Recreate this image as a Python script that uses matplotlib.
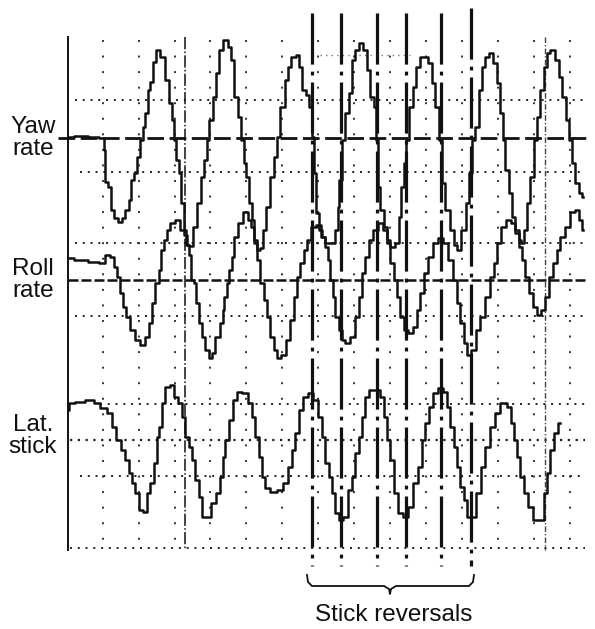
import matplotlib
matplotlib.use("Agg")
import matplotlib.pyplot as plt

# time base and traces (values are deflections from each trace's zero line)
yaw_t = [68, 80, 95, 102, 105, 105, 110, 112, 115, 120, 123, 127, 130, 132, 135, 138, 142, 143, 147, 148,
         152, 153, 158, 162, 167, 170, 173, 175, 177, 180, 182, 185, 187, 190, 195, 198, 203, 205, 208, 210,
         215, 217, 220, 225, 230, 232, 235, 240, 242, 245, 247, 250, 253, 255, 258, 262, 263, 268, 272, 275,
         278, 282, 287, 288, 293, 298, 300, 303, 308, 310, 313, 315, 317, 320, 323, 327, 332, 337, 338, 340,
         343, 347, 350, 353, 357, 360, 365, 368, 372, 375, 377, 378, 382, 385, 388, 392, 397, 400, 402, 405,
         407, 410, 415, 417, 422, 425, 430, 433, 437, 440, 443, 447, 452, 455, 458, 463, 468, 470, 473, 477,
         480, 483, 487, 490, 495, 498, 502, 503, 507, 510, 513, 517, 520, 522, 525, 528, 532, 535, 538, 542,
         545, 548, 552, 557, 560, 563, 568, 570, 573, 577, 580, 583]
yaw_v = [1, 2, 1, 0, -12, -44, -49, -72, -80, -84, -80, -72, -62, -42, -35, -19, -2, 11, 25, 48,
         56, 76, 88, 81, 58, 35, 18, -2, -22, -35, -65, -92, -107, -108, -89, -65, -39, -22, -2, 18,
         41, 65, 88, 98, 91, 78, 41, 21, -2, -25, -39, -65, -82, -102, -112, -110, -92, -69, -39, -19,
         1, 31, 58, 71, 81, 83, 71, 48, 43, 31, 1, -35, -75, -92, -99, -105, -105, -92, -69, -42,
         -2, 25, 45, 78, 88, 95, 88, 68, 41, 31, -2, -49, -72, -89, -105, -109, -105, -79, -49, -25,
         -2, 31, 51, 71, 81, 81, 75, 55, 31, -2, -45, -72, -92, -107, -112, -92, -65, -35, -2, 11,
         48, 71, 81, 85, 75, 55, 25, -2, -32, -55, -79, -92, -102, -105, -92, -65, -39, -2, 21, 48,
         71, 85, 88, 78, 61, 41, 18, -2, -25, -45, -55, -59]

roll_t = [68, 80, 95, 103, 107, 112, 115, 118, 122, 123, 128, 132, 137, 142, 147, 150, 153, 157, 160, 162,
          165, 168, 172, 177, 182, 185, 188, 190, 192, 195, 197, 200, 203, 207, 210, 213, 217, 222, 223, 225,
          228, 230, 233, 235, 240, 245, 250, 252, 255, 258, 262, 265, 268, 272, 275, 278, 283, 288, 292, 295,
          298, 302, 305, 308, 313, 318, 323, 327, 328, 332, 333, 337, 340, 343, 347, 352, 357, 360, 363, 367,
          370, 375, 380, 385, 388, 392, 395, 398, 402, 405, 410, 415, 418, 422, 425, 430, 435, 440, 445, 450,
          455, 458, 462, 465, 468, 473, 478, 482, 487, 492, 495, 498, 503, 508, 513, 517, 520, 523, 527, 530,
          535, 538, 543, 547, 550, 555, 558, 562, 567, 572, 577, 580, 583]
roll_v = [22, 20, 18, 17, 25, 23, 13, 3, -13, -27, -37, -50, -60, -65, -57, -43, -23, -3, 10, 30,
          40, 50, 57, 60, 50, 45, 35, 25, 0, -3, -23, -43, -57, -70, -78, -73, -57, -43, -30, -17,
          -3, 10, 23, 43, 57, 68, 60, 53, 37, 20, -3, -20, -37, -57, -70, -78, -75, -60, -40, -17,
          3, 17, 30, 40, 53, 55, 43, 33, 20, 0, -17, -37, -50, -60, -63, -57, -37, -17, 7, 23,
          40, 50, 57, 50, 40, 17, 0, -17, -37, -50, -53, -47, -30, -13, 7, 23, 37, 42, 37, 20,
          0, -23, -43, -63, -75, -70, -50, -37, -17, 3, 17, 37, 53, 60, 57, 47, 33, 20, 3, -13,
          -27, -35, -30, -17, 3, 17, 30, 43, 53, 68, 70, 60, 50]

stick_t = [68, 70, 80, 90, 97, 103, 110, 113, 118, 123, 127, 130, 133, 137, 140, 145, 148, 152, 155, 158,
           160, 163, 167, 172, 175, 180, 183, 187, 190, 193, 197, 200, 203, 208, 213, 218, 222, 223, 227, 230,
           235, 238, 245, 250, 253, 257, 260, 263, 267, 273, 280, 285, 290, 293, 297, 300, 305, 310, 315, 320,
           323, 327, 330, 333, 337, 340, 345, 350, 353, 357, 360, 363, 367, 370, 377, 382, 385, 388, 392, 395,
           400, 405, 410, 415, 420, 423, 427, 430, 435, 440, 445, 448, 452, 455, 458, 462, 465, 468, 473, 478,
           483, 487, 492, 497, 503, 510, 512, 515, 518, 522, 525, 530, 535, 542, 545, 548, 552, 555, 560]
stick_v = [30, 37, 38, 40, 37, 32, 27, 13, 0, -10, -20, -33, -43, -53, -70, -72, -53, -43, -23, 3,
           13, 37, 53, 55, 43, 37, 23, 3, -7, -20, -40, -57, -77, -77, -63, -53, -37, -17, 0, 20,
           40, 48, 47, 37, 23, 3, -17, -37, -48, -52, -50, -43, -27, -10, 7, 30, 43, 47, 40, 23,
           3, -23, -37, -53, -73, -80, -77, -50, -37, -13, 3, 23, 43, 50, 50, 43, 23, 0, -20, -53,
           -73, -77, -67, -43, -27, 0, 17, 33, 47, 52, 48, 33, 13, -7, -27, -47, -60, -77, -77, -53,
           -27, -7, 13, 27, 37, 33, 17, 0, -17, -37, -53, -67, -80, -80, -53, -33, -10, 7, 17]

reversal_t = [312, 341, 377, 406, 441, 471]
labels = ["Yaw\nrate", "Roll\nrate", "Lat.\nstick"]

# layout (figure pixels)
zero_y = {"yaw": 138, "roll": 280, "stick": 440}
grid_cols = [103, 139, 175, 210, 246, 282, 318, 354, 390, 426, 462, 498, 534, 570]
dotted_rows = [(100, 75), (172, 80), (243, 75), (316, 75), (404, 100), (476, 80), (548, 70)]
ink = "#111111"

plt.rcParams['font.family'] = ['Liberation Sans', 'DejaVu Sans']
fig = plt.figure(figsize=(5.95, 6.29), dpi=100)
ax = fig.add_axes([0, 0, 1, 1])
ax.set_xlim(0, 595)
ax.set_ylim(629, 0)
ax.axis('off')

# dotted grid
for gx in grid_cols:
    ax.plot([gx, gx], [40, 550], color="#333333", lw=1.4, ls=(0, (1, 7)))
for gy, x0 in dotted_rows:
    ax.plot([x0, 585], [gy, gy], color="#222222", lw=1.4, ls=(0, (1, 3)))
ax.plot([320, 410], [55, 55], color="#777777", lw=1.0, ls=(0, (1, 3)))
ax.plot([70, 585], [440, 440], color="#222222", lw=1.6, ls=(0, (1, 2.5)))

# zero lines
ax.plot([58, 590], [zero_y["yaw"]] * 2, color=ink, lw=2.0, ls=(0, (6, 2)))
ax.plot([68, 585], [zero_y["roll"]] * 2, color=ink, lw=1.8, ls=(0, (4, 1.2)))

# vertical markers
ax.plot([68, 68], [37, 550], color=ink, lw=1.4)
ax.plot([185, 185], [37, 550], color=ink, lw=1.1, ls=(0, (8, 1.5, 1, 1.5)))
ax.plot([545, 545], [37, 550], color="#444444", lw=1.0, ls=(0, (4, 1.5, 1, 1.5)))
for i, rt in enumerate(reversal_t):
    top = 8 if i == len(reversal_t) - 1 else 13
    ax.plot([rt, rt], [top, 566], color=ink, lw=2.3, ls=(0, (16, 2.2, 1.2, 2.2)))

# traces
ax.plot(yaw_t, [zero_y["yaw"] - v for v in yaw_v], color=ink, lw=1.8, drawstyle='steps-mid')
ax.plot(roll_t, [zero_y["roll"] - v for v in roll_v], color=ink, lw=1.8, drawstyle='steps-mid')
ax.plot(stick_t, [zero_y["stick"] - v for v in stick_v], color=ink, lw=1.8, drawstyle='steps-mid')

# labels
for lab, key in zip(labels, ["yaw", "roll", "stick"]):
    yc = zero_y[key] - 4 if key == "stick" else zero_y[key]
    ax.text(33, yc, lab, ha='center', va='center', multialignment='center',
            fontsize=17.5, linespacing=1.05, color=ink)

# bracket
bx = [307, 308, 312, 384, 389, 390, 391, 396, 469, 473, 474]
by = [575, 582, 586, 586, 589, 594, 589, 586, 586, 582, 575]
ax.plot(bx, by, color=ink, lw=1.3)
ax.text(394, 615, "Stick reversals", ha='center', va='center', fontsize=17.5, color=ink)

fig.savefig("out.png", dpi=100)
